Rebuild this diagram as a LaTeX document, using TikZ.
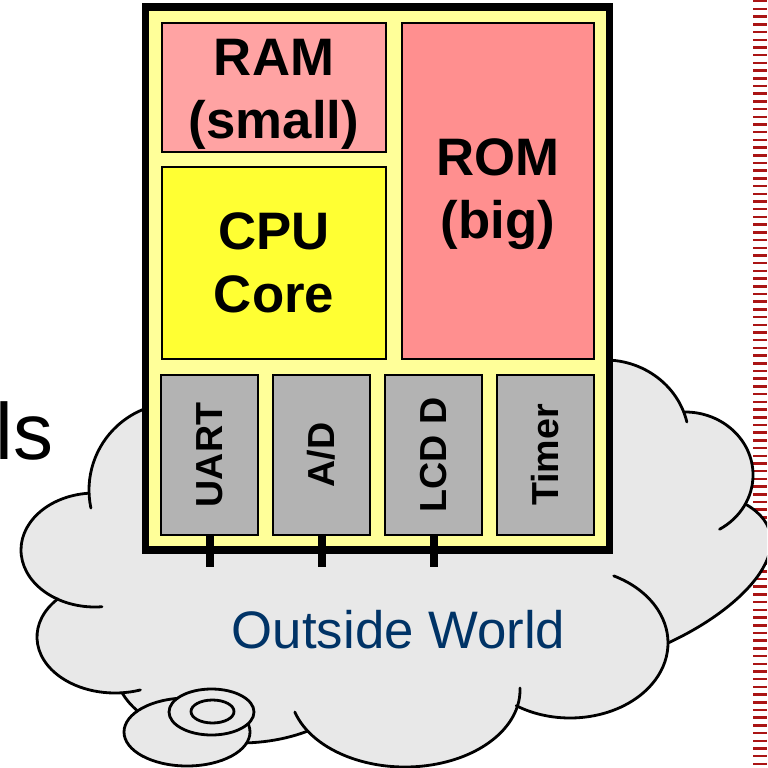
\documentclass[tikz,border=0pt]{standalone}
\usepackage{fontspec}
\setmainfont{Liberation Sans}
\usepackage{tikz}
\usetikzlibrary{positioning}

\definecolor{chipyellow}{RGB}{255,255,153}
\definecolor{coreyellow}{RGB}{255,255,51}
\definecolor{ramred}{RGB}{255,163,163}
\definecolor{romred}{RGB}{255,143,143}
\definecolor{periphgray}{RGB}{179,179,179}
\definecolor{cloudgray}{RGB}{232,232,232}
\definecolor{worldblue}{RGB}{0,51,102}
\definecolor{edgered}{RGB}{170,20,20}

\tikzset{
  unitbox/.style={draw=black, line width=0.4pt, inner sep=0pt},
  unittext/.style={font=\bfseries\fontsize{15}{17.9}\selectfont, align=center, inner sep=0pt},
  periph/.style={unitbox, fill=periphgray, rotate=90, minimum width=1.6cm, minimum height=0.97cm,
    font=\bfseries\fontsize{10.7}{12}\selectfont},
  pinline/.style={line width=0.08cm},
  cloudline/.style={line width=0.028cm, line cap=round}
}

\begin{document}
\begin{tikzpicture}[x=0.01cm, y=-0.01cm]
    \useasboundingbox (0,0) rectangle (767,768);
    \clip (0,0) rectangle (767,768);

    % Red hatched edge on the right
    \draw[edgered, line width=0.14cm, dash pattern=on 0.025cm off 0.052cm] (760,0) -- (760,768);

    % Cloud: bumps are filled first, then the outline arcs
    \fill[cloudgray] (176,490) -- (95,550) -- (115,637) -- (240,668) -- (405,690) -- (570,643) -- (668,643)
      .. controls (750,605) and (805,540) .. (747,505) -- (685,475) -- (605,440) -- (400,400) -- cycle;
    \foreach \cx/\cy/\rx/\ry/\a/\b in {176/490/87/87/168/270, 95/550/74/57/264.6/84.6, 115/637/78/56/223/71,
      240/668/125/75/160.6/57.4, 405/690/115/77/163.4/-1.5, 570/643/98/75/123.3/-63.5,
      685/475/68/63/-90/59.5, 605/440/84/80/-100/-13} {
      \fill[cloudgray] (\cx,\cy) ellipse [x radius=\rx, y radius=\ry];
    }
    \foreach \cx/\cy/\rx/\ry/\a/\b in {176/490/87/87/168/270, 95/550/74/57/264.6/84.6, 115/637/78/56/223/71,
      240/668/125/75/160.6/57.4, 405/690/115/77/163.4/-1.5, 570/643/98/75/123.3/-63.5,
      685/475/68/63/-90/59.5, 605/440/84/80/-100/-13} {
      \draw[cloudline] (\cx,\cy) ++({\rx*cos(\a)},{\ry*sin(\a)}) arc [start angle=\a, end angle=\b, x radius=\rx, y radius=\ry];
    }
    \draw[cloudline] (747,505) .. controls (805,540) and (750,605) .. (668,643);

    % Thought bubbles
    \draw[cloudline, fill=cloudgray] (187,732) ellipse [x radius=63, y radius=34];
    \draw[cloudline, fill=cloudgray] (211.5,712) ellipse [x radius=42.5, y radius=23];
    \draw[cloudline] (212.5,711.5) ellipse [x radius=21.5, y radius=11.5];

    \node[text=worldblue, font=\fontsize{15}{18}\selectfont, anchor=base, inner sep=0pt] (world) at (398.5,648) {Outside World};
    \node[font=\fontsize{22.7}{26}\selectfont, anchor=base west, inner sep=0pt] (sideword) at (-5,460) {ls};

    % Chip with memory blocks
    \node[draw=black, line width=0.075cm, fill=chipyellow, minimum width=4.64cm, minimum height=5.43cm, inner sep=0pt] (chip) at (377.5,278.5) {};
    \node[unitbox, fill=ramred, minimum width=2.24cm, minimum height=1.29cm] (ram) at (274,87.5) {};
    \node[unitbox, fill=coreyellow, minimum width=2.24cm, minimum height=1.92cm] (cpu) at (274,263) {};
    \node[unitbox, fill=romred, minimum width=1.92cm, minimum height=3.36cm] (rom) at (498,191) {};
    \node[unittext] (ramtext) at (274,94.5) {RAM\\(small)};
    \node[unittext] (cputext) at (cpu) {CPU\\Core};
    \node[unittext] (romtext) at (498,194.5) {ROM\\(big)};

    % Peripherals
    \foreach \name/\x/\txt in {uart/209.5/UART, ad/321.5/{A/D}, lcd/433.5/LCD D, timer/545.5/Timer} {
      \node[periph] (\name) at (\x,455) {\txt};
    }

    % Pins to the outside
    \foreach \name/\x in {uart/209.5, ad/321.5, lcd/433.5} {
      \coordinate (\name pin) at (\x,567);
      \draw[pinline] (\name.west) -- (\name pin);
    }
\end{tikzpicture}
\end{document}
